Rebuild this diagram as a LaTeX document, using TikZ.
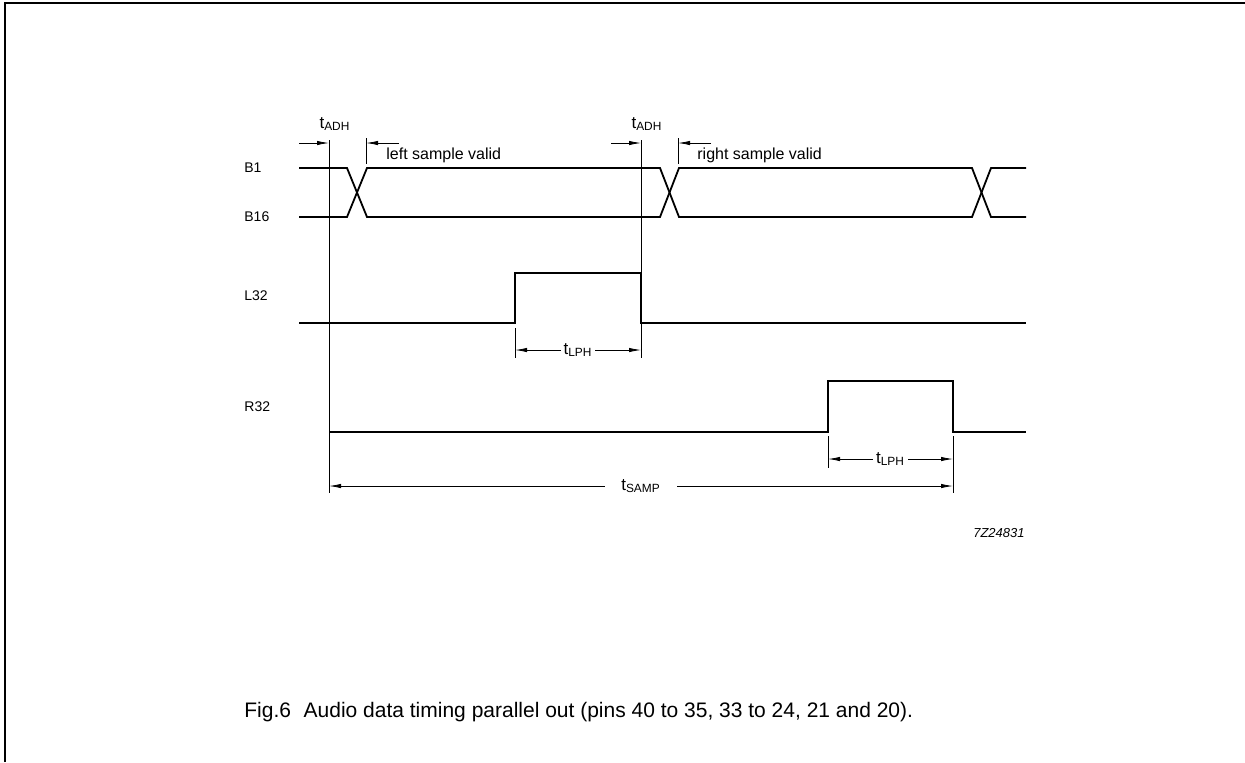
\documentclass[tikz,border=0pt]{standalone}
\usepackage{fontspec}
\setmainfont{Liberation Sans}
\usetikzlibrary{arrows.meta}

\tikzset{
  wave/.style={line width=0.9pt},
  guide/.style={line width=0.4pt},
  dimline/.style={line width=0.4pt,{Latex[length=6pt,width=2.2pt]}-{Latex[length=6pt,width=2.2pt]}},
  onearrow/.style={line width=0.4pt,-{Latex[length=6pt,width=2.2pt]}},
  sig/.style={font=\fontsize{7}{8}\selectfont,anchor=west,inner sep=0pt},
  txt/.style={font=\fontsize{8}{9}\selectfont,anchor=west,inner sep=0pt},
  lbl/.style={font=\fontsize{8.5}{10}\selectfont,fill=white,inner sep=1.5pt},
}

\begin{document}
\begin{tikzpicture}[x=0.5pt,y=-0.5pt]
  \useasboundingbox (0,0) rectangle (1245,762);
  % frame
  \draw[line width=1pt] (5,762) -- (5,3) -- (1245,3);

  % signal names
  \node[sig] (b1)  at (244,168) {B1};
  \node[sig] (b16) at (244,217) {B16};
  \node[sig] (l32) at (244,296) {L32};
  \node[sig] (r32) at (244,407) {R32};

  % B1 ... B16 bus
  \draw[wave] (299,168) -- (347,168) -- (367,217) -- (660,217) -- (679,168)
     -- (972,168) -- (991,217) -- (1026,217);
  \draw[wave] (299,217) -- (347,217) -- (367,168) -- (660,168) -- (679,217)
     -- (972,217) -- (991,168) -- (1026,168);
  % L32 and R32
  \draw[wave] (299,323) -- (515,323) -- (515,273) -- (641,273) -- (641,323) -- (1026,323);
  \draw[wave] (329,432) -- (828,432) -- (828,381) -- (953,381) -- (953,432) -- (1026,432);

  % guide lines
  \coordinate (s0) at (329,140);
  \coordinate (s1) at (329,493);
  \coordinate (a0) at (641,140);
  \coordinate (a1) at (641,358);
  \draw[guide] (s0) -- (s1);
  \draw[guide] (a0) -- (a1);
  \draw[guide] (366,138) -- (366,164);
  \draw[guide] (678,138) -- (678,164);
  \draw[guide] (515,328) -- (515,358);
  \draw[guide] (828,436) -- (828,468);
  \draw[guide] (953,436) -- (953,493);

  % t_ADH
  \foreach \x/\n in {329/1,641/2} {
    \node[lbl,fill=none] (adh\n) at (\x+6,124) {t\textsubscript{ADH}};
    \draw[onearrow] (\x-30,143) -- (\x,143);
    \draw[onearrow] (\x+70,143) -- (\x+37,143);
  }
  \node[txt] (left)  at (386,155) {left sample valid};
  \node[txt] (right) at (697,155) {right sample valid};

  % t_LPH and t_SAMP
  \coordinate (lp0) at (515,350);
  \coordinate (lp1) at (641,350);
  \draw[dimline] (lp0) -- node[lbl] (lph1) {t\textsubscript{LPH}} (lp1);
  \coordinate (rp0) at (828,459);
  \coordinate (rp1) at (953,459);
  \draw[dimline] (rp0) -- node[lbl] (lph2) {t\textsubscript{LPH}} (rp1);
  \coordinate (sp0) at (329,486);
  \coordinate (sp1) at (953,486);
  \draw[dimline] (sp0) -- node[lbl,inner xsep=8pt] (samp) {t\textsubscript{SAMP}} (sp1);

  \node[font=\fontsize{6.5}{8}\selectfont\itshape,anchor=east,inner sep=0pt] (code) at (1025,533) {7Z24831};

  % caption
  \node[font=\fontsize{10.5}{12}\selectfont,anchor=west,inner sep=0pt] (cap) at (244,712)
    {Fig.6\hspace{0.6em}Audio data timing parallel out (pins 40 to 35, 33 to 24, 21 and 20).};
\end{tikzpicture}
\end{document}
